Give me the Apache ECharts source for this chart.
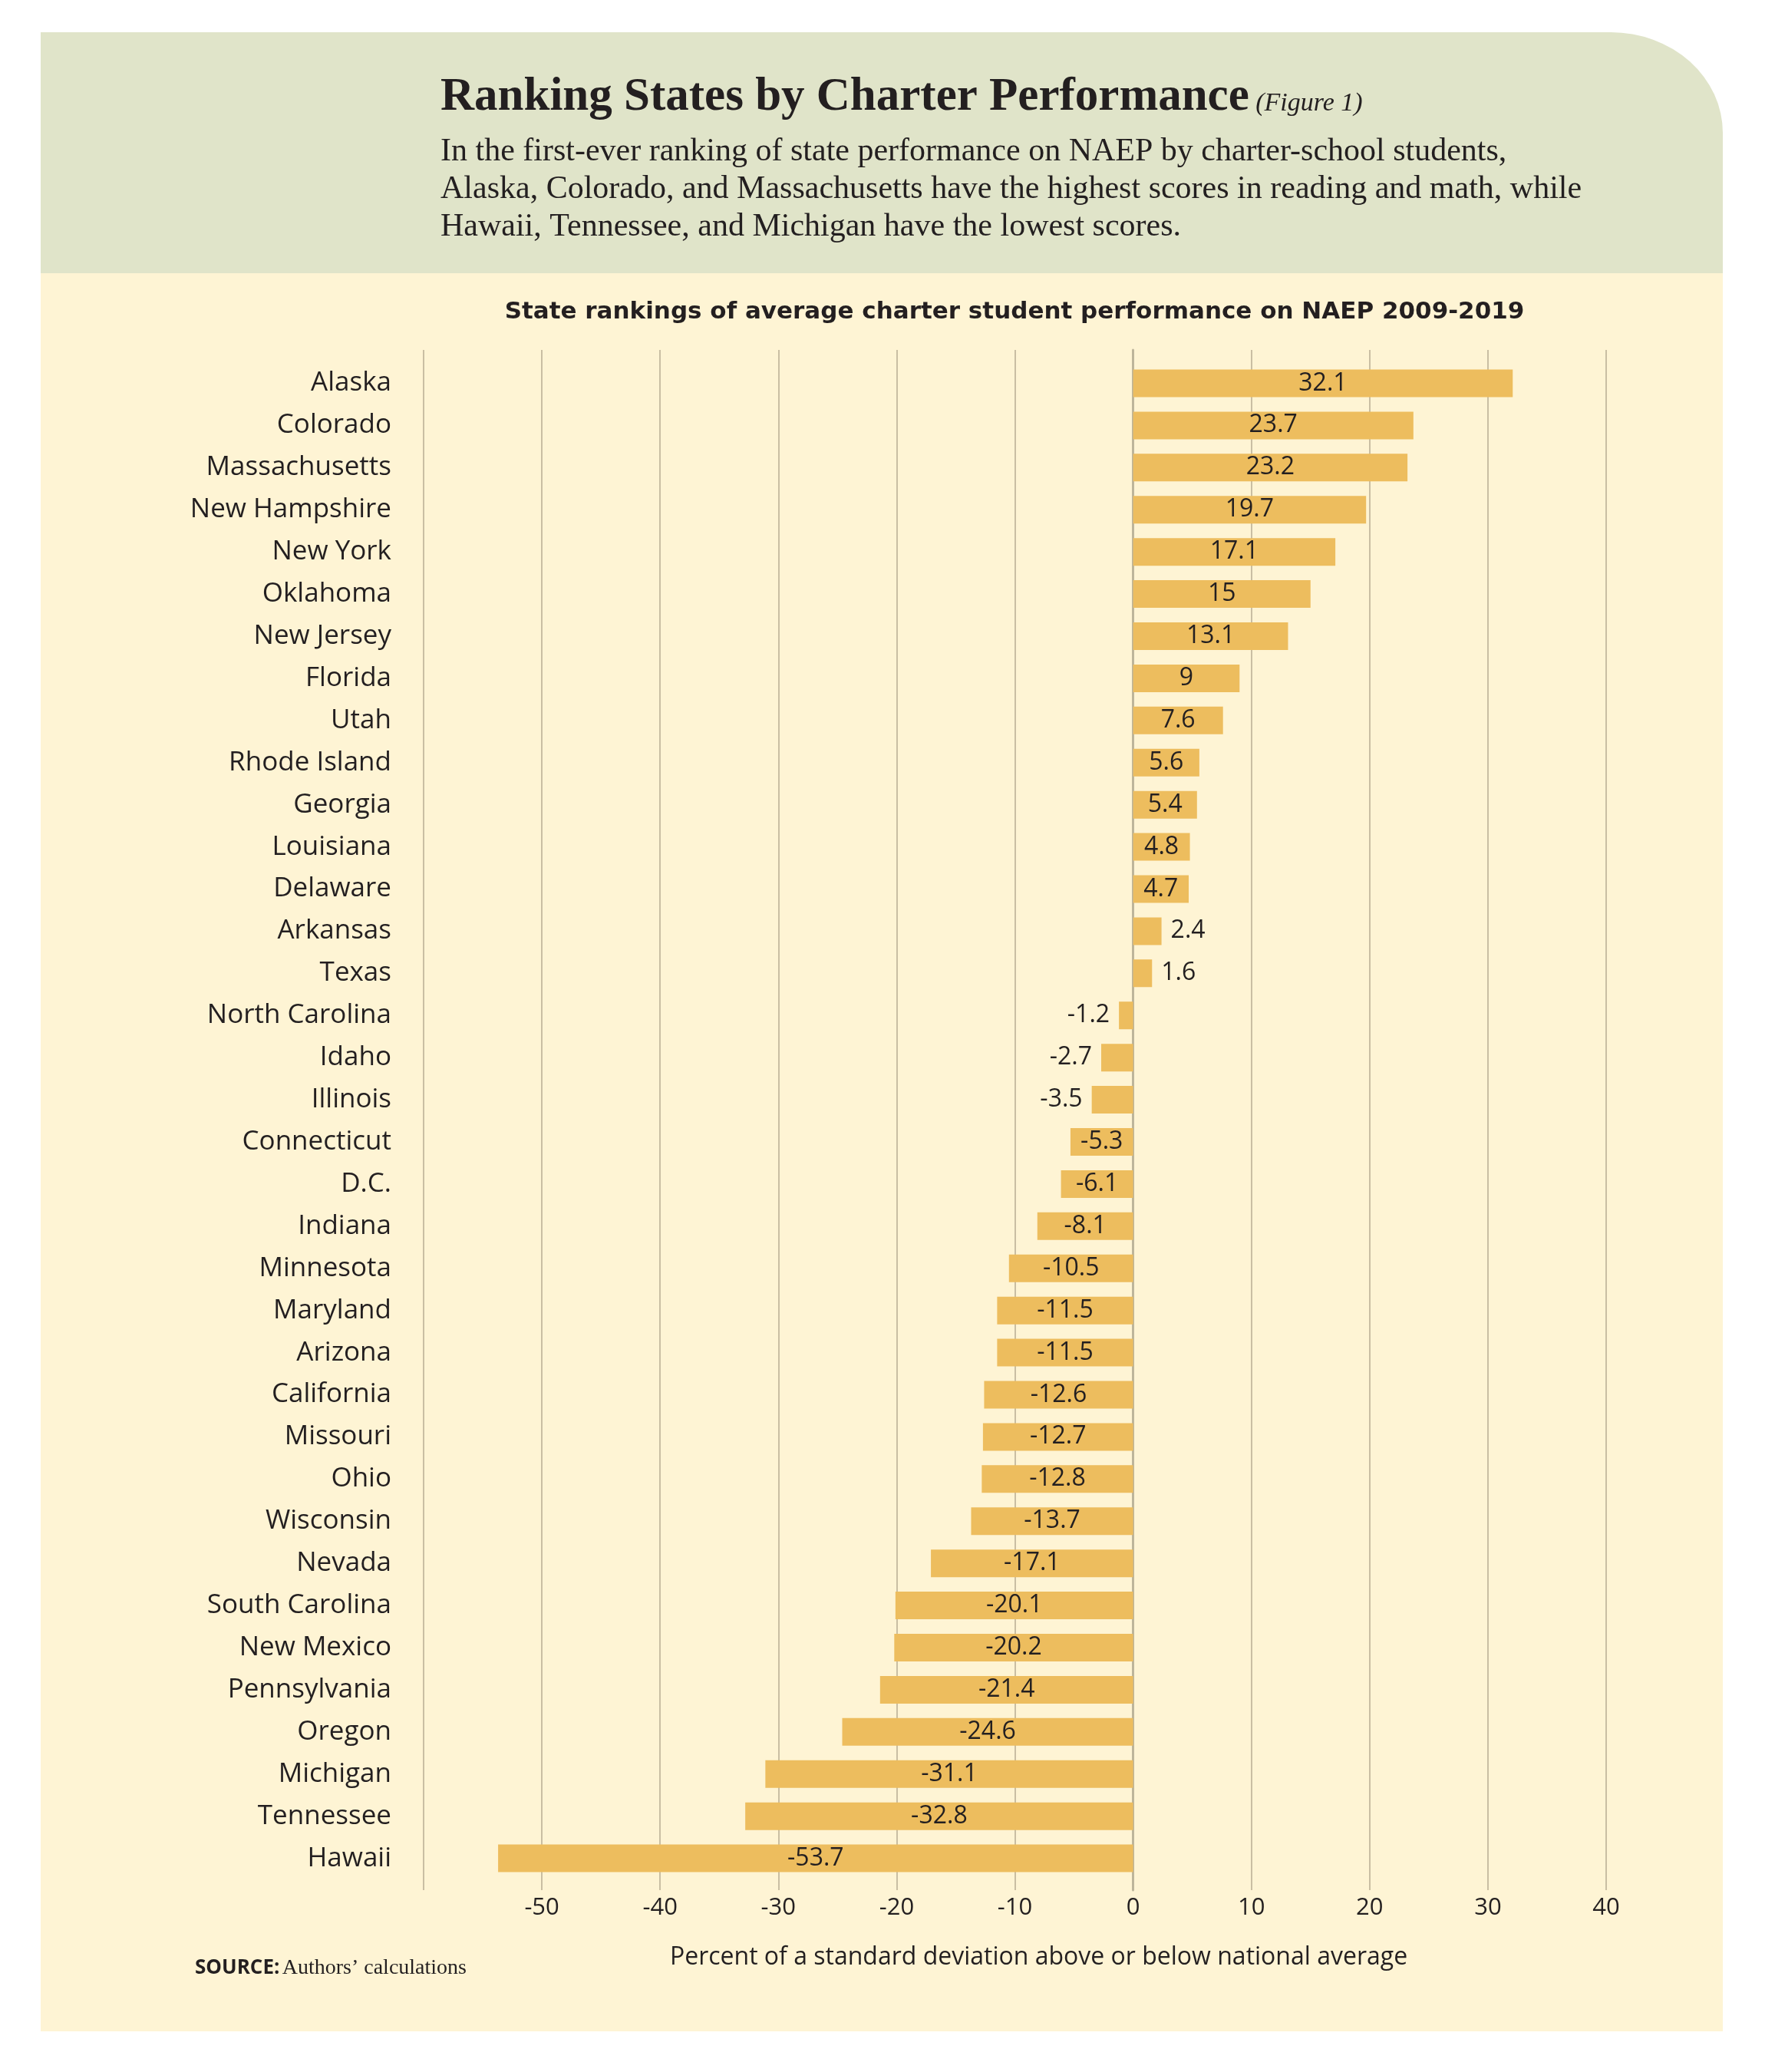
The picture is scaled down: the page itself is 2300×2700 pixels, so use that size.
<!DOCTYPE html>
<html>
<head>
<meta charset="utf-8">
<title>Ranking States by Charter Performance</title>
<script src="https://cdn.jsdelivr.net/npm/echarts@6/dist/echarts.min.js"></script>
<style>
  html, body { margin: 0; padding: 0; background: #ffffff; }
  #wrap { position: relative; width: 2300px; height: 2700px; }
  .panel-top {
    position: absolute; left: 53px; top: 42px; width: 2192px; height: 314px;
    background: #e0e4c9; border-top-right-radius: 146px 131px;
  }
  .panel-main {
    position: absolute; left: 53px; top: 356px; width: 2192px; height: 2291px;
    background: #fef4d4;
  }
  #chart { position: absolute; left: 0; top: 0; width: 2300px; height: 2700px; }
</style>
</head>
<body>
<div id="wrap">
  <div class="panel-top"></div>
  <div class="panel-main"></div>
  <div id="chart"></div>
</div>
<script>
// 州名（从上到下）
const states = [
  'Alaska', 'Colorado', 'Massachusetts', 'New Hampshire', 'New York', 'Oklahoma',
  'New Jersey', 'Florida', 'Utah', 'Rhode Island', 'Georgia', 'Louisiana',
  'Delaware', 'Arkansas', 'Texas', 'North Carolina', 'Idaho', 'Illinois',
  'Connecticut', 'D.C.', 'Indiana', 'Minnesota', 'Maryland', 'Arizona',
  'California', 'Missouri', 'Ohio', 'Wisconsin', 'Nevada', 'South Carolina',
  'New Mexico', 'Pennsylvania', 'Oregon', 'Michigan', 'Tennessee', 'Hawaii'
];

// 相对全国平均的标准差百分比
const scores = [
  32.1, 23.7, 23.2, 19.7, 17.1, 15,
  13.1, 9, 7.6, 5.6, 5.4, 4.8,
  4.7, 2.4, 1.6, -1.2, -2.7, -3.5,
  -5.3, -6.1, -8.1, -10.5, -11.5, -11.5,
  -12.6, -12.7, -12.8, -13.7, -17.1, -20.1,
  -20.2, -21.4, -24.6, -31.1, -32.8, -53.7
];

// x 轴刻度
const xTicks = [-60, -50, -40, -30, -20, -10, 0, 10, 20, 30, 40];

const headline = 'Ranking States by Charter Performance';
const figureTag = ' (Figure 1)';
const introLines = [
  'In the first-ever ranking of state performance on NAEP by charter-school students,',
  'Alaska, Colorado, and Massachusetts have the highest scores in reading and math, while',
  'Hawaii, Tennessee, and Michigan have the lowest scores.'
];
const chartTitle = 'State rankings of average charter student performance on NAEP 2009-2019';
const axisTitle = 'Percent of a standard deviation above or below national average';
const sourceLabel = 'SOURCE:';
const sourceText = 'Authors\u2019 calculations';

const INK = '#231f20';
const SANS = '"Open Sans", "Noto Sans", sans-serif';
const SANS_BOLD = '"DejaVu Sans", "Open Sans", sans-serif';
const SERIF = '"Liberation Serif", "DejaVu Serif", serif';

const chart = echarts.init(document.getElementById('chart'));

// 条形内放不下的数值标在外侧
const barData = scores.map(v => ({
  value: v,
  label: { position: Math.abs(v) >= 4 ? 'inside' : (v > 0 ? 'right' : 'left') }
}));

chart.setOption({
  backgroundColor: 'transparent',
  animation: false,
  graphic: [
    {
      type: 'text', x: 574, y: 127,
      style: {
        text: '{h|' + headline + '}{f|' + figureTag + '}',
        verticalAlign: 'middle',
        rich: {
          h: { font: 'bold 61px ' + SERIF, fill: INK },
          f: { font: 'italic 34px ' + SERIF, fill: INK, padding: [16, 0, 0, 0] }
        }
      }
    },
    ...introLines.map((line, i) => ({
      type: 'text', x: 574, y: 198 + i * 49,
      style: { text: line, font: '42px ' + SERIF, fill: INK, verticalAlign: 'middle' }
    })),
    {
      type: 'text', x: 1322, y: 407,
      style: { text: chartTitle, font: 'bold 31px ' + SANS_BOLD, fill: INK, align: 'center', verticalAlign: 'middle' }
    },
    {
      type: 'text', x: 254, y: 2565,
      style: {
        text: '{s|' + sourceLabel + '} {t|' + sourceText + '}',
        verticalAlign: 'middle',
        rich: {
          s: { font: 'bold 26px ' + SANS, fill: INK },
          t: { font: '28px ' + SERIF, fill: INK }
        }
      }
    }
  ],
  grid: [
    // 条形区
    { left: 552, width: 1541, top: 472, height: 1977 },
    // 网格线区（上下略长）
    { left: 552, width: 1541, top: 456, height: 2007 }
  ],
  xAxis: [
    {
      type: 'value', gridIndex: 0, min: -60, max: 40, interval: 10,
      axisLine: { show: false }, axisTick: { show: false },
      axisLabel: { show: false }, splitLine: { show: false }
    },
    {
      type: 'value', gridIndex: 1, min: -60, max: 40, interval: 10,
      axisLine: { show: false }, axisTick: { show: false },
      axisLabel: {
        margin: 8, fontSize: 31, fontFamily: SANS, color: INK,
        formatter: v => (v === xTicks[0] ? '' : String(v))
      },
      splitLine: { show: true, lineStyle: { color: '#c9bea3', width: 2 } },
      name: axisTitle,
      nameLocation: 'middle',
      nameGap: 72,
      nameTextStyle: { fontSize: 32, fontFamily: SANS, color: INK, padding: [0, 0, 0, 62] }
    }
  ],
  yAxis: [
    {
      type: 'category', gridIndex: 0, data: states, inverse: true,
      axisLine: { show: false }, axisTick: { show: false },
      axisLabel: { margin: 42, fontSize: 35, fontFamily: SANS, color: INK }
    },
    {
      type: 'value', gridIndex: 1, min: 0, max: 1,
      axisLine: { show: true, lineStyle: { color: '#bdb59b', width: 3 } },
      axisTick: { show: false }, axisLabel: { show: false }, splitLine: { show: false }
    }
  ],
  series: [
    {
      type: 'bar',
      xAxisIndex: 0,
      yAxisIndex: 0,
      data: barData,
      barWidth: 36,
      itemStyle: { color: '#edbd5e' },
      label: {
        show: true,
        distance: 12,
        fontSize: 32,
        fontFamily: SANS,
        color: INK
      },
      z: 3
    }
  ]
});
</script>
</body>
</html>
